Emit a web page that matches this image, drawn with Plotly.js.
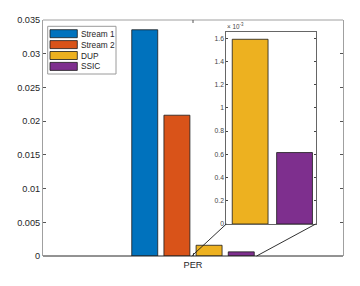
<!DOCTYPE html>
<html>
<head>
<meta charset="utf-8">
<script src="https://cdn.plot.ly/plotly-3.0.1.min.js"></script>
<style>html,body{margin:0;padding:0;background:#fff;}#chart{width:360px;height:286px;}</style>
</head>
<body>
<div id="chart"></div>
<script>
// ---- data ----
const categories = ['PER'];
const seriesNames = ['Stream 1', 'Stream 2', 'DUP', 'SSIC'];
const stream1 = [0.03355];
const stream2 = [0.02088];
const dup = [0.00159];
const ssic = [0.000615];
const mainYTicks = [0, 0.005, 0.01, 0.015, 0.02, 0.025, 0.03, 0.035];
const mainYTickText = ['0', '0.005', '0.01', '0.015', '0.02', '0.025', '0.03', '0.035'];
const insetYTicks = [0, 0.0002, 0.0004, 0.0006, 0.0008, 0.001, 0.0012, 0.0014, 0.0016];
const insetYTickText = ['0', '0.2', '0.4', '0.6', '0.8', '1', '1.2', '1.4', '1.6'];
const insetExponent = '× 10<sup>-3</sup>';

// ---- styles / layout ----
const colors = ['#0072BD', '#D95319', '#EDB120', '#7E2F8E'];
const FONT = 'Liberation Sans, Arial, Helvetica, sans-serif';
const W = 360, H = 286, ML = 43, MR = 17, MT = 20, MB = 30;
const PW = W - ML - MR, PH = H - MT - MB;
const px2x = p => (p - ML) / PW;
const px2y = p => (H - MB - p) / PH;

const mainRange = [-0.5, 0.5];
const insetXRange = [-0.004, 0.212];
const insetYRange = [0, 0.00165];
const insetDomX = [px2x(226.3), px2x(315.7)];
const insetDomY = [px2y(224), px2y(32.3)];

const values = [stream1, stream2, dup, ssic];
const traces = [];
values.forEach((v, i) => {
  traces.push({type: 'bar', x: categories, y: v, name: seriesNames[i], showlegend: false,
    marker: {color: colors[i], line: {color: '#1a1a1a', width: 0.8}}, xaxis: 'x', yaxis: 'y', hoverinfo: 'none'});
});
values.forEach((v, i) => {
  traces.push({type: 'bar', x: categories, y: v, name: seriesNames[i], showlegend: false,
    marker: {color: colors[i], line: {color: '#1a1a1a', width: 0.8}}, xaxis: 'x2', yaxis: 'y2', hoverinfo: 'none'});
});

const shapes = [];
const annotations = [];
// top border (light) and bottom axis line (dark)
shapes.push({type: 'line', xref: 'paper', yref: 'paper', x0: 0, x1: 1, y0: 1, y1: 1, line: {color: '#a0a0a0', width: 1}});
shapes.push({type: 'line', xref: 'paper', yref: 'paper', x0: 0, x1: 1, y0: 0, y1: 0, line: {color: '#262626', width: 1}});
// top mirrored x tick at the category
shapes.push({type: 'line', xref: 'x', yref: 'paper', x0: categories[0], x1: categories[0], y0: 1, y1: 1 - 3 / PH, line: {color: '#555', width: 1}});
// connector lines from zoom region to inset
const toMainX = f => mainRange[0] + f * (mainRange[1] - mainRange[0]);
shapes.push({type: 'line', xref: 'x', yref: 'paper', x0: insetXRange[0], y0: 0, x1: toMainX(insetDomX[0]), y1: insetDomY[0], line: {color: '#1a1a1a', width: 0.9}});
shapes.push({type: 'line', xref: 'x', yref: 'paper', x0: insetXRange[1], y0: 0, x1: toMainX(insetDomX[1]), y1: insetDomY[0], line: {color: '#1a1a1a', width: 0.9}});

// custom legend
shapes.push({type: 'rect', xref: 'paper', yref: 'paper', x0: px2x(47.7), x1: px2x(116), y0: px2y(74), y1: px2y(26.3),
  fillcolor: '#ffffff', line: {color: '#9a9a9a', width: 1}});
const rowTop = [29.7, 40.6, 51.5, 62.4];
seriesNames.forEach((n, i) => {
  shapes.push({type: 'rect', xref: 'paper', yref: 'paper', x0: px2x(50), x1: px2x(77.3), y0: px2y(rowTop[i] + 8), y1: px2y(rowTop[i]),
    fillcolor: colors[i], line: {color: '#1a1a1a', width: 0.8}});
  annotations.push({xref: 'paper', yref: 'paper', x: px2x(78.8), y: px2y(rowTop[i] + 4), xanchor: 'left', yanchor: 'middle',
    text: n, showarrow: false, font: {family: FONT, size: 8.3, color: '#262626'}});
});
// inset exponent
annotations.push({xref: 'paper', yref: 'paper', x: px2x(224.5), y: px2y(32.5), xanchor: 'left', yanchor: 'bottom',
  text: insetExponent, showarrow: false, font: {family: FONT, size: 6.3, color: '#444'}});

const layout = {
  width: W, height: H,
  margin: {l: ML, r: MR, t: MT, b: MB, pad: 0},
  paper_bgcolor: '#ffffff', plot_bgcolor: 'rgba(0,0,0,0)',
  barmode: 'group', bargap: 0.571, bargroupgap: 0.193,
  showlegend: false,
  font: {family: FONT, color: '#262626'},
  xaxis: {domain: [0, 1], range: mainRange, type: 'category', showline: false, mirror: false,
    ticks: 'inside', ticklen: 3, tickcolor: '#555', showgrid: false, zeroline: false, ticklabelstandoff: 2,
    tickfont: {family: FONT, size: 9.2, color: '#262626'}, fixedrange: true},
  yaxis: {domain: [0, 1], range: [0, 0.035], showline: true, linecolor: '#a0a0a0', linewidth: 1, mirror: 'ticks',
    ticks: 'inside', ticklen: 3, tickcolor: '#555', tickvals: mainYTicks, ticktext: mainYTickText,
    showgrid: false, zeroline: false, tickfont: {family: FONT, size: 9.2, color: '#262626'}, fixedrange: true},
  xaxis2: {domain: insetDomX, range: insetXRange, type: 'category', anchor: 'y2', showline: true, mirror: true,
    linecolor: '#666', linewidth: 1, ticks: '', showticklabels: false, showgrid: false, zeroline: false, fixedrange: true},
  yaxis2: {domain: insetDomY, range: insetYRange, anchor: 'x2', showline: true, mirror: 'ticks', linecolor: '#666', linewidth: 1,
    ticks: 'inside', ticklen: 2, tickcolor: '#444', tickvals: insetYTicks, ticktext: insetYTickText,
    showgrid: false, zeroline: false, tickfont: {family: FONT, size: 6.8, color: '#444'}, fixedrange: true},
  shapes: shapes,
  annotations: annotations
};

Plotly.newPlot('chart', traces, layout, {staticPlot: true, displayModeBar: false});
</script>
</body>
</html>
